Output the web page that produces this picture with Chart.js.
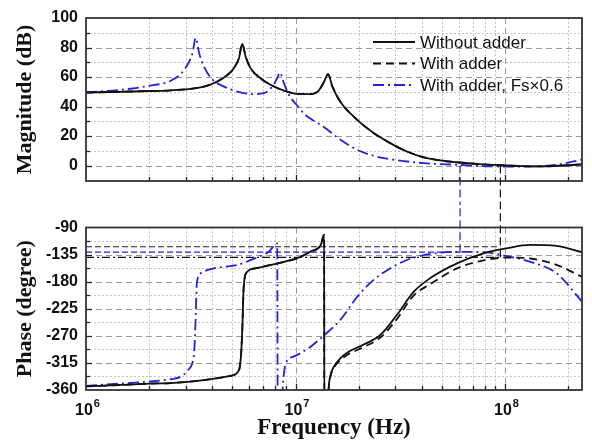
<!DOCTYPE html>
<html>
<head>
<meta charset="utf-8">
<script src="https://cdn.jsdelivr.net/npm/chart.js@4.4.1/dist/chart.umd.min.js"></script>
<style>
    body { margin: 0; background: #fff; }
    #wrap { position: relative; width: 592px; height: 440px; }
    #magBox { position: absolute; left: 0; top: 0; width: 592px; height: 205px; }
    #phaseBox { position: absolute; left: 0; top: 205px; width: 592px; height: 235px; }
</style>
</head>
<body>
<div id="wrap">
    <div id="magBox"><canvas id="magChart"></canvas></div>
    <div id="phaseBox"><canvas id="phaseChart"></canvas></div>
</div>
<script>
// Données (fréquence en Hz)
const magFreqWithout = [1e6, 1.5e6, 2e6, 2.54e6, 3.66e6, 4.24e6, 4.73e6, 5.08e6, 5.37e6, 5.57e6, 5.78e6, 6.1e6, 6.8e6, 7.6e6, 8.8e6, 1.02e7, 1.18e7, 1.29e7, 1.37e7, 1.43e7, 1.5e7, 1.64e7, 1.97e7, 2.36e7, 2.83e7, 3.4e7, 4.1e7, 5e7, 5.9e7, 7.5e7, 9.5e7, 1.2e8, 1.5e8, 1.9e8, 2.33e8];
const magWithout     = [49.5, 50, 50.5, 51, 53.5, 57, 61.4, 66, 72.7, 82.4, 73.8, 66, 59.2, 54.7, 50.8, 48.6, 48.4, 50.8, 56.9, 61.9, 53.5, 43, 31, 22, 15.2, 9.5, 5.5, 3.3, 2.2, 1, 0.2, -0.4, -0.6, 0, 0.8];
const magWith        = [49.5, 50, 50.5, 51, 53.5, 57, 61.4, 66, 72.7, 82.4, 73.8, 66, 59.2, 54.7, 50.8, 48.6, 48.4, 50.8, 56.9, 61.9, 53.5, 43, 31, 22, 15.2, 9.5, 5.5, 3.3, 2.2, 1, 0.2, -0.4, -0.6, 0, 0.8];
const magFreqFs      = [1e6, 1.5e6, 2e6, 2.54e6, 2.94e6, 3.22e6, 3.34e6, 3.47e6, 3.66e6, 4e6, 4.56e6, 5.27e6, 6.33e6, 7.06e6, 7.74e6, 8.18e6, 8.42e6, 8.8e6, 9.29e6, 1.02e7, 1.1e7, 1.2e7, 1.37e7, 1.64e7, 1.97e7, 2.36e7, 2.83e7, 4.09e7, 5.9e7, 8.5e7, 1.22e8, 1.76e8, 2.33e8];
const magFs          = [49.5, 51.5, 54, 57.5, 64.8, 76, 86.5, 76, 67, 58.5, 53.5, 50.1, 48.4, 49, 53.5, 59.2, 63, 55.8, 48, 40.5, 35, 31, 26, 17.4, 10.6, 6.6, 4.3, 1.6, 0.5, -0.6, -0.7, 0.5, 4];

const phaseFreqWithout = [1e6, 1.5e6, 2e6, 2.54e6, 3.66e6, 4.89e6, 5.37e6, 5.5e6, 5.57e6, 5.66e6, 5.86e6, 6.4e6, 8.2e6, 1.02e7, 1.18e7, 1.32e7, 1.37e7, 1.372e7, 1.43e7, 1.44e7, 1.47e7, 1.52e7, 1.64e7, 1.8e7, 2.1e7, 2.54e7, 3.05e7, 3.66e7, 4.4e7, 5.9e7, 7.9e7, 1.02e8, 1.32e8, 1.76e8, 2.33e8];
const phaseWithout     = [-354, -351.5, -349.5, -348.5, -343.5, -336.5, -327, -300, -260, -188, -164, -158, -149.5, -141, -130, -119, -102, -385, -385, -357, -335, -322, -307, -296, -285, -268.6, -235, -197, -174, -149.5, -133, -124.6, -119, -120.7, -131];
const phaseWith        = [-354, -351.5, -349.5, -348.5, -343.5, -336.5, -327, -300, -260, -188, -164, -158, -149.5, -141, -130, -119, -102, -385, -385, -357, -337, -324, -310, -300, -289, -273, -242, -203, -184, -158, -144.5, -140, -141.5, -152, -172];
const phaseFreqFs      = [1e6, 1.5e6, 2e6, 2.54e6, 2.83e6, 3.07e6, 3.22e6, 3.28e6, 3.33e6, 3.38e6, 3.53e6, 4.08e6, 5.27e6, 6.4e6, 7.45e6, 8.18e6, 8.22e6, 8.6e6, 8.7e6, 8.98e6, 9.79e6, 1.18e7, 1.37e7, 1.64e7, 1.97e7, 2.36e7, 2.83e7, 3.4e7, 4.09e7, 5.9e7, 7.9e7, 1.02e8, 1.32e8, 1.76e8, 2.33e8];
const phaseFs          = [-353, -349, -346, -342, -338, -327, -315, -299, -250, -183, -166, -158, -152.3, -141.2, -130.2, -116.3, -385, -385, -352, -316, -304.6, -288, -269, -243, -205, -177, -158, -144, -136, -130.5, -131, -137.5, -147, -166, -213];

// Points de croisement (0 dB) et marges de phase
const crossFreqWithout = 9.5e7;
const crossFreqFs = 6.1e7;
const marginWithout = -122;
const marginWith = -139.5;
const marginFs = -131;

// Graduations
const magTicks = [0, 20, 40, 60, 80, 100];
const magMinor = [10, 30, 50, 70, 90];
const phaseTicks = [-360, -315, -270, -225, -180, -135, -90];
const phaseMinor = [-337.5, -292.5, -247.5, -202.5, -157.5, -112.5];
const freqTicks = [1e6, 1e7, 1e8];
const freqTickExponents = ['6', '7', '8'];
const seriesLabels = ['Without adder', 'With adder', 'With adder, Fs\u00d70.6'];

const blue = '#2323d8';
const solid = [];
const dashed = [8, 5];
const dashDot = [11, 4, 2, 4];

const zip = (xs, ys) => xs.map((x, i) => ({ x: x, y: ys[i] }));

function curve(label, xs, ys, color, dash) {
    return {
        label: label,
        data: zip(xs, ys),
        borderColor: color,
        borderWidth: 1.8,
        borderDash: dash,
        pointRadius: 0,
        cubicInterpolationMode: 'monotone',
        fill: false
    };
}

function refLine(points, color, dash) {
    return {
        label: '',
        data: points,
        borderColor: color,
        borderWidth: 1.2,
        borderDash: dash,
        pointRadius: 0,
        clip: false,
        fill: false
    };
}

// Grille, graduations internes et cadre
const bodeGrid = {
    id: 'bodeGrid',
    beforeDatasetsDraw(chart, args, opts) {
        const { ctx, chartArea: a, scales: { x, y } } = chart;
        ctx.save();
        ctx.lineWidth = 1;
        // verticales mineures (pointillés)
        ctx.strokeStyle = '#c4c4c4';
        ctx.setLineDash([2, 2]);
        [1e6, 1e7, 1e8].forEach(d => {
            for (let m = 2; m <= 9; m++) {
                const f = m * d;
                if (f >= x.max) continue;
                const px = Math.round(x.getPixelForValue(f)) + 0.5;
                ctx.beginPath(); ctx.moveTo(px, a.top); ctx.lineTo(px, a.bottom); ctx.stroke();
            }
        });
        opts.minor.forEach(v => {
            const py = Math.round(y.getPixelForValue(v)) + 0.5;
            ctx.beginPath(); ctx.moveTo(a.left, py); ctx.lineTo(a.right, py); ctx.stroke();
        });
        // majeures (tirets)
        ctx.strokeStyle = '#9a9a9a';
        ctx.setLineDash([6, 4]);
        freqTicks.forEach(f => {
            if (f <= x.min || f >= x.max) return;
            const px = Math.round(x.getPixelForValue(f)) + 0.5;
            ctx.beginPath(); ctx.moveTo(px, a.top); ctx.lineTo(px, a.bottom); ctx.stroke();
        });
        opts.major.forEach(v => {
            if (v <= y.min || v >= y.max) return;
            const py = Math.round(y.getPixelForValue(v)) + 0.5;
            ctx.beginPath(); ctx.moveTo(a.left, py); ctx.lineTo(a.right, py); ctx.stroke();
        });
        ctx.restore();
    },
    afterDatasetsDraw(chart, args, opts) {
        const { ctx, chartArea: a, scales: { x, y } } = chart;
        ctx.save();
        ctx.strokeStyle = '#222';
        ctx.lineWidth = 1.3;
        ctx.setLineDash([]);
        // petites graduations vers l'intérieur
        [1e6, 1e7, 1e8].forEach(d => {
            for (let m = 1; m <= 9; m++) {
                const f = m * d;
                if (f <= x.min || f >= x.max) continue;
                const px = Math.round(x.getPixelForValue(f)) + 0.5;
                const len = m === 1 ? 6 : 4;
                ctx.beginPath(); ctx.moveTo(px, a.bottom); ctx.lineTo(px, a.bottom - len); ctx.stroke();
            }
        });
        opts.major.concat(opts.minor).forEach(v => {
            if (v <= y.min || v >= y.max) return;
            const py = Math.round(y.getPixelForValue(v)) + 0.5;
            const len = opts.major.includes(v) ? 6 : 4;
            ctx.beginPath(); ctx.moveTo(a.left, py); ctx.lineTo(a.left + len, py); ctx.stroke();
        });
        ctx.lineWidth = 1.8;
        ctx.strokeStyle = '#333';
        ctx.strokeRect(a.left, a.top, a.right - a.left, a.bottom - a.top);

        // étiquettes 10^n de l'axe des fréquences
        if (opts.powerLabels) {
            ctx.fillStyle = '#111';
            ctx.textBaseline = 'alphabetic';
            ctx.textAlign = 'left';
            freqTicks.forEach((f, i) => {
                const px = x.getPixelForValue(f);
                ctx.font = 'bold 16px "Liberation Sans", Arial, sans-serif';
                const wBase = ctx.measureText('10').width;
                ctx.font = 'bold 11px "Liberation Sans", Arial, sans-serif';
                const wExp = ctx.measureText(freqTickExponents[i]).width;
                const x0 = px - (wBase + wExp) / 2 + 1;
                ctx.font = 'bold 16px "Liberation Sans", Arial, sans-serif';
                ctx.fillText('10', x0, a.bottom + 25);
                ctx.font = 'bold 11px "Liberation Sans", Arial, sans-serif';
                ctx.fillText(freqTickExponents[i], x0 + wBase + 1, a.bottom + 17);
            });
        }
        ctx.restore();
    }
};

// Légende dessinée dans la zone du graphique
const bodeLegend = {
    id: 'bodeLegend',
    afterDraw(chart) {
        const { ctx, chartArea: a } = chart;
        ctx.save();
        ctx.font = '17px "Liberation Sans", Arial, sans-serif';
        ctx.textBaseline = 'middle';
        ctx.fillStyle = '#111';
        const items = chart.data.datasets.filter(ds => ds.label);
        items.forEach((ds, i) => {
            const yy = a.top + 24 + i * 21.5;
            const x0 = a.right - 209;
            ctx.strokeStyle = ds.borderColor;
            ctx.lineWidth = 1.8;
            ctx.setLineDash(ds.borderDash || []);
            ctx.beginPath(); ctx.moveTo(x0, yy); ctx.lineTo(x0 + 42, yy); ctx.stroke();
            ctx.fillText(ds.label, x0 + 47, yy + 1);
        });
        ctx.restore();
    }
};

const tickFont = { family: '"Liberation Sans", Arial, sans-serif', size: 16, weight: 'bold' };
const titleFont = { family: '"Liberation Serif", "Times New Roman", serif', size: 22, weight: 'bold' };

function yAxis(title, ticks, min, max) {
    return {
        type: 'linear',
        min: min,
        max: max,
        afterBuildTicks: s => { s.ticks = ticks.map(v => ({ value: v })); },
        afterFit: s => { s.width = 86; },
        grid: { display: false, drawTicks: false },
        border: { display: false },
        ticks: { font: tickFont, color: '#111', padding: 8 },
        title: { display: true, text: title, font: titleFont, color: '#111', padding: { top: 12, bottom: 0 } }
    };
}

new Chart(document.getElementById('magChart').getContext('2d'), {
    type: 'line',
    data: {
        datasets: [
            curve(seriesLabels[0], magFreqWithout, magWithout, '#111', solid),
            curve(seriesLabels[1], magFreqWithout, magWith, '#111', dashed),
            curve(seriesLabels[2], magFreqFs, magFs, blue, dashDot),
            refLine([{ x: crossFreqFs, y: 0 }, { x: crossFreqFs, y: -40 }], blue, [8, 4]),
            refLine([{ x: crossFreqWithout, y: 0 }, { x: crossFreqWithout, y: -40 }], '#111', [8, 4])
        ]
    },
    options: {
        responsive: true,
        maintainAspectRatio: false,
        animation: false,
        layout: { padding: { top: 18, right: 10, bottom: 24, left: 0 } },
        plugins: {
            legend: { display: false },
            tooltip: { enabled: false },
            bodeGrid: { major: magTicks, minor: magMinor, powerLabels: false }
        },
        scales: {
            x: { type: 'logarithmic', min: 1e6, max: 2.33e8, display: false },
            y: yAxis('Magnitude (dB)', magTicks, -10.5, 100)
        }
    },
    plugins: [bodeGrid, bodeLegend]
});

new Chart(document.getElementById('phaseChart').getContext('2d'), {
    type: 'line',
    data: {
        datasets: [
            curve(seriesLabels[0], phaseFreqWithout, phaseWithout, '#111', solid),
            curve(seriesLabels[1], phaseFreqWithout, phaseWith, '#111', dashed),
            curve(seriesLabels[2], phaseFreqFs, phaseFs, blue, dashDot),
            refLine([{ x: 1e6, y: marginWithout }, { x: crossFreqWithout, y: marginWithout }], '#222', [6, 3]),
            refLine([{ x: 1e6, y: marginFs }, { x: crossFreqFs, y: marginFs }], blue, [6, 3]),
            refLine([{ x: 1e6, y: marginWith }, { x: crossFreqWithout, y: marginWith }], '#111', [8, 3, 2, 3]),
            refLine([{ x: crossFreqFs, y: marginFs }, { x: crossFreqFs, y: -40 }], blue, [8, 4]),
            refLine([{ x: crossFreqWithout, y: marginWith }, { x: crossFreqWithout, y: -40 }], '#111', [8, 4])
        ]
    },
    options: {
        responsive: true,
        maintainAspectRatio: false,
        animation: false,
        layout: { padding: { top: 22.5, right: 10, bottom: 0, left: 0 } },
        plugins: {
            legend: { display: false },
            tooltip: { enabled: false },
            bodeGrid: { major: phaseTicks, minor: phaseMinor, powerLabels: true }
        },
        scales: {
            x: {
                type: 'logarithmic',
                min: 1e6,
                max: 2.33e8,
                afterBuildTicks: s => { s.ticks = freqTicks.map(v => ({ value: v })); },
                afterFit: s => { s.height = 50; },
                grid: { display: false, drawTicks: false },
                border: { display: false },
                ticks: { display: false },
                title: {
                    display: true,
                    text: 'Frequency (Hz)',
                    font: { family: titleFont.family, size: 23, weight: 'bold', lineHeight: 1 },
                    color: '#111',
                    padding: { top: 0, bottom: 0 }
                }
            },
            y: yAxis('Phase (degree)', phaseTicks, -360, -90)
        }
    },
    plugins: [bodeGrid]
});
</script>
</body>
</html>
